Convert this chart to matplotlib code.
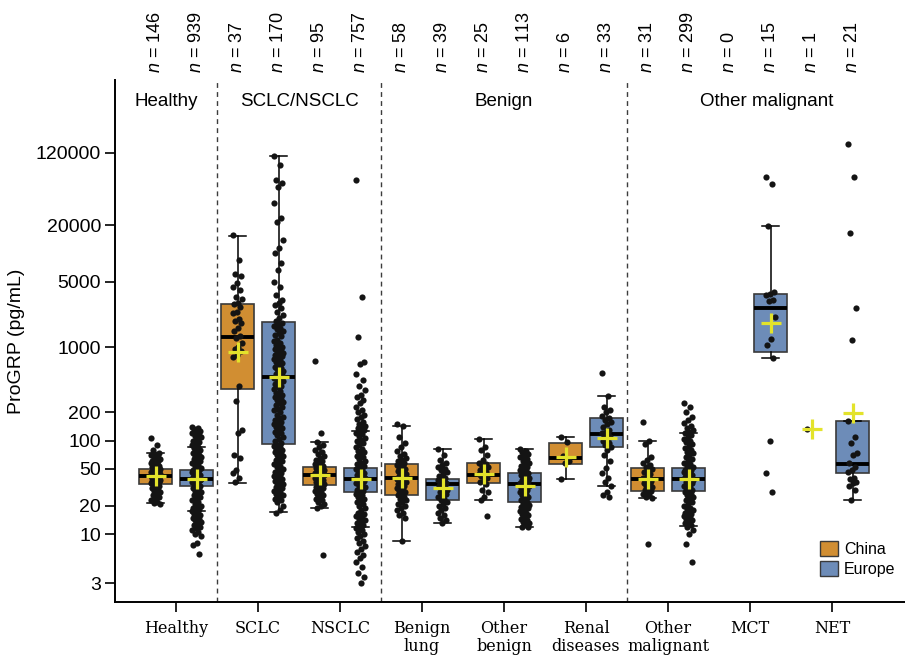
import matplotlib
matplotlib.use("Agg")
import matplotlib.pyplot as plt
from matplotlib.patches import Patch
import numpy as np

plt.rcParams['font.family'] = ['Liberation Sans', 'DejaVu Sans']
plt.rcParams['mathtext.fontset'] = 'custom'
plt.rcParams['mathtext.it'] = 'Liberation Sans:italic'
plt.rcParams['mathtext.rm'] = 'Liberation Sans'

# categories and sample sizes
categories = ["Healthy", "SCLC", "NSCLC", "Benign\nlung", "Other\nbenign",
              "Renal\ndiseases", "Other\nmalignant", "MCT", "NET"]
n_china = [146, 37, 95, 58, 25, 6, 31, 0, 1]
n_europe = [939, 170, 757, 39, 113, 33, 299, 15, 21]
groups = ["Healthy", "SCLC/NSCLC", "Benign", "Other malignant"]

# box statistics (pg/mL)
cn_q1 = [34.4, 356, 33.5, 26.2, 35.2, 56, 28.9, None, None]
cn_med = [41.8, 1283, 43, 39.8, 43, 65, 38.5, None, None]
cn_q3 = [49.7, 2891, 52.2, 56, 57.5, 94, 51, None, None]
cn_lo = [21.5, 35.2, 19, 8.4, 23, 38.5, 24.4, None, None]
cn_hi = [73.8, 15420, 96.6, 143, 104, 110, 98, None, None]
cn_mean = [42, 887, 43, 40, 44, 66, 38.5, None, 133]

eu_q1 = [32.8, 92, 28.2, 23.2, 22, 85.5, 29, 887, 45]
eu_med = [38.5, 479, 38.5, 34, 34.6, 118, 38.5, 2620, 56]
eu_q3 = [48.7, 1854, 51, 38.5, 45, 175, 51, 3700, 162]
eu_lo = [17.6, 17.2, 11.9, 13.1, 11.9, 32.6, 12.2, 765, 23]
eu_hi = [85, 110600, 127, 81, 81, 300, 120, 19700, 162]
eu_mean = [38.5, 480, 38.5, 31, 32.5, 107, 38.5, 1812, 197]

# individual measurements (visible dots, estimated)
healthy_cn = [107, 90, 80, 74, 72, 70, 67, 65, 64, 62, 61, 60, 58, 57, 56, 55, 54, 53,
              52, 51, 50, 49.5, 49, 48, 47.5, 47, 46, 45.5, 45, 44, 44, 43.5, 43, 42, 42,
              41.5, 41, 40, 40, 39.5, 39, 38, 37.5, 37, 37, 36, 35.5, 35, 34, 33.5, 33,
              32, 31, 30, 29, 28, 27, 26, 25, 24, 23, 22, 21.5, 21]
healthy_eu = [140, 136, 132, 128, 124, 120, 116, 112, 108, 104, 100, 96, 92, 89, 86, 83,
              80, 77, 74, 71, 69, 67, 65, 63, 61, 59, 57, 55, 53, 51, 50, 49, 48, 47, 46,
              45, 44, 43, 42, 41, 40, 39.5, 39, 38.5, 38, 37.5, 37, 36, 35, 34, 33, 32,
              31, 30, 29, 28, 27, 26, 25, 24, 23, 22, 21, 20, 19.5, 19, 18.5, 18, 17.5,
              17, 16.5, 16, 15.5, 15, 14.5, 14, 13.5, 13, 12.5, 12, 11.5, 11, 10.5, 10,
              9.5, 8, 7.6, 6.1]
sclc_cn = [16000, 8500, 6000, 5700, 4800, 4400, 4100, 3400, 3300, 3000, 2900, 2700, 2400,
           2300, 2000, 1900, 1800, 1600, 1500, 1300, 1250, 1100, 1000, 950, 900, 830, 780,
           380, 265, 130, 120, 70, 65, 49, 45, 40, 36]
sclc_eu = [110700, 88700, 61300, 56900, 51500, 34800, 24000, 21800, 14000, 11500, 10100,
           7940, 6680, 4970, 4400, 3610, 3200, 3000, 2800, 2600, 2400, 2200, 2050, 1900,
           1800, 1750, 1700, 1600, 1550, 1500, 1400, 1350, 1300, 1200, 1150, 1100, 1050,
           1000, 980, 950, 920, 900, 870, 850, 820, 800, 770, 750, 720, 700, 680, 650,
           620, 600, 580, 560, 540, 520, 500, 490, 470, 460, 440, 430, 410, 400, 385,
           370, 355, 340, 325, 310, 300, 290, 280, 270, 260, 250, 240, 230, 220, 210,
           200, 190, 180, 175, 165, 160, 155, 150, 145, 140, 135, 130, 125, 120, 115,
           110, 105, 100, 95, 90, 88, 85, 82, 80, 78, 75, 72, 70, 68, 65, 62, 60, 58, 56,
           54, 52, 50, 48, 46, 45, 44, 42, 41, 40, 39, 38, 37, 36, 35, 34, 33, 32, 31,
           30, 29, 28, 27, 26, 25, 24, 23, 22, 20, 18, 17]
nsclc_cn = [710, 120, 97, 90, 85, 80, 76, 72, 68, 65, 62, 60, 58, 56, 55, 54, 53, 52, 51,
            50, 49, 48, 47.5, 47, 46, 45.5, 45, 44, 43.5, 43, 43, 42, 41.5, 41, 40, 39.5,
            39, 38, 37, 36, 35.5, 35, 34, 33, 32, 31, 30, 29, 28, 27, 26, 25, 24, 23, 22,
            21, 20, 19, 6]
nsclc_eu = [61000, 3400, 1270, 700, 660, 520, 450, 380, 350, 310, 290, 270, 250, 230, 215,
            200, 190, 180, 170, 160, 150, 145, 140, 135, 130, 127, 122, 117, 112, 107,
            102, 98, 94, 90, 86, 82, 78, 75, 72, 69, 66, 63, 60, 58, 56, 54, 52, 50, 48.5,
            47, 45.5, 44, 43, 42, 41, 40, 39, 38, 37, 36, 35, 34, 33, 32, 31, 30, 29, 28,
            27, 26, 25, 24, 23, 22, 21, 20, 19, 18, 17, 16.5, 16, 15.5, 15, 14.5, 14, 13.5,
            13, 12.5, 12, 11.5, 11, 10.5, 10, 9.5, 9, 8.5, 8, 7.5, 7, 6.5, 6, 5.5, 5, 4.5,
            3.8, 3.5, 3.0]
blung_cn = [150, 143, 110, 95, 85, 78, 72, 68, 65, 62, 60, 58, 56, 55, 53, 51, 50, 48, 47,
            46, 45, 44, 43, 42, 41, 40, 39, 38, 37, 36, 35, 34, 33, 32, 31, 30, 29, 28, 27,
            26, 25, 24, 23, 22, 21, 20, 19, 18, 17, 16, 15, 8.4]
blung_eu = [81, 70, 62, 58, 55, 52, 50, 48, 46, 44, 42, 40, 39, 38, 37, 36, 35, 34, 33, 32,
            31, 30, 29, 28, 27, 26, 25, 24, 23, 22, 21, 20, 19, 18, 17, 16, 15, 14, 13]
obenign_cn = [104, 85, 80, 70, 62, 58, 56, 54, 52, 50, 48, 46, 45, 44, 43, 42, 40, 38, 36,
              34, 30, 28, 25, 23, 15.6]
obenign_eu = [81, 78, 75, 72, 69, 66, 63, 60, 58, 56, 54, 52, 50, 48, 47, 46, 45, 44, 43,
              42, 41, 40, 39, 38, 37, 36, 35, 34.5, 34, 33, 32, 31, 30, 29, 28, 27, 26, 25,
              24, 23, 22, 21, 20.5, 20, 19.5, 19, 18, 17.5, 17, 16.5, 16, 15, 14.5, 14,
              13.5, 13, 12.5, 12, 11.9]
renal_cn = [110, 97, 68, 60, 57, 38.5]
renal_eu = [528, 300, 230, 210, 200, 185, 175, 168, 160, 150, 140, 130, 125, 120, 118, 115,
            110, 105, 100, 95, 90, 85, 79, 70, 60, 51, 45, 40, 36, 32.6, 28, 26, 25]
omalig_cn = [158, 100, 92, 66, 62, 58, 55, 52, 50, 48, 46, 44, 42, 40, 39, 38, 37, 36, 35,
             34, 33, 32, 31, 30, 29, 28, 27, 26, 25, 24.4, 7.8]
omalig_eu = [250, 230, 200, 180, 165, 155, 145, 138, 130, 125, 120, 115, 110, 105, 100, 96,
             92, 88, 84, 80, 76, 73, 70, 67, 64, 61, 58, 56, 54, 52, 50, 49, 48, 47, 46,
             45, 44, 43, 42, 41, 40, 39, 38, 37, 36, 35, 34, 33, 32, 31, 30, 29, 28, 27,
             26, 25, 24, 23, 22, 21, 20, 19, 18.5, 18, 17.5, 17, 16.5, 16, 15.5, 15, 14.5,
             14, 13.5, 13, 12.5, 12, 11, 10, 7.8, 5.0]
mct_cn = []
mct_eu = [66000, 56000, 19700, 3850, 3700, 3600, 3200, 3100, 2090, 1230, 1050, 765, 98,
          45, 28.3]
net_cn = [133]
net_eu = [148600, 66000, 16600, 2640, 1190, 162, 110, 94, 74, 70, 58, 52, 49, 46, 40, 38.7,
          36, 35, 33, 30, 23]

china_points = [healthy_cn, sclc_cn, nsclc_cn, blung_cn, obenign_cn, renal_cn, omalig_cn,
                mct_cn, net_cn]
europe_points = [healthy_eu, sclc_eu, nsclc_eu, blung_eu, obenign_eu, renal_eu, omalig_eu,
                 mct_eu, net_eu]

china_color = '#D18E32'
europe_color = '#6D8CB8'
mean_color = '#E3E32B'

fig = plt.figure(figsize=(9.05, 6.55), dpi=100)
ax = fig.add_axes([115 / 905, 53 / 655, 790 / 905, 522 / 655])
ax.set_yscale('log')

x = np.arange(1, len(categories) + 1)
offset = 0.25


def draw_boxes(q1, med, q3, lo, hi, xpos, color):
    stats, pos = [], []
    for i in range(len(q1)):
        if q1[i] is None:
            continue
        stats.append(dict(q1=q1[i], med=med[i], q3=q3[i], whislo=lo[i], whishi=hi[i],
                          fliers=[]))
        pos.append(xpos[i])
    res = ax.bxp(stats, positions=pos, widths=0.4, capwidths=0.2, patch_artist=True,
                 showfliers=False,
                 boxprops=dict(edgecolor='#3a3a3a', linewidth=1.2),
                 medianprops=dict(color='black', linewidth=2.8),
                 whiskerprops=dict(color='black', linewidth=1.1),
                 capprops=dict(color='black', linewidth=1.1))
    for b in res['boxes']:
        b.set_facecolor(color)
        b.set_zorder(2)


draw_boxes(cn_q1, cn_med, cn_q3, cn_lo, cn_hi, x - offset, china_color)
draw_boxes(eu_q1, eu_med, eu_q3, eu_lo, eu_hi, x + offset, europe_color)

# jittered dots (deterministic spread)
for pts_list, sign in [(china_points, -1), (europe_points, 1)]:
    for i, vals in enumerate(pts_list):
        if len(vals) == 0:
            continue
        k = np.arange(len(vals))
        jit = ((k * 0.618034) % 1 - 0.5) * 0.12
        ax.scatter(x[i] + sign * offset + jit, vals, s=20, color='#141414',
                   linewidths=0, zorder=3)

# mean crosses
for means, sign in [(cn_mean, -1), (eu_mean, 1)]:
    for i, m in enumerate(means):
        if m is None:
            continue
        ax.plot(x[i] + sign * offset, m, marker='+', ms=15, mew=2.3, color=mean_color,
                ls='none', zorder=5)

# section separators
for xs in [1.5, 3.5, 6.5]:
    ax.axvline(xs, color='#3c3c3c', lw=1, ls=(0, (3.5, 3)), zorder=1)

ax.set_xlim(0.256, 9.89)
ax.set_ylim(1.88, 719000)

yticks = [3, 10, 20, 50, 100, 200, 1000, 5000, 20000, 120000]
ax.set_yticks(yticks)
ax.set_yticklabels([str(t) for t in yticks], fontsize=14)
ax.yaxis.set_minor_locator(matplotlib.ticker.NullLocator())
ax.set_ylabel("ProGRP (pg/mL)", fontsize=14, labelpad=8)

ax.set_xticks(x)
ax.set_xticklabels(categories, fontsize=11.5, family='DejaVu Serif', linespacing=1.05)
ax.tick_params(axis='both', direction='out', length=7, width=1.2, colors='black')
ax.tick_params(axis='y', pad=3)
ax.tick_params(axis='x', pad=6)

for s in ['top', 'right']:
    ax.spines[s].set_visible(False)
for s in ['left', 'bottom']:
    ax.spines[s].set_linewidth(1.4)

# section titles
trans = matplotlib.transforms.blended_transform_factory(ax.transData, ax.transAxes)
for label, xc in zip(groups, [0.878, 2.5, 5.0, 8.2]):
    ax.text(xc, 0.958, label, transform=trans, ha='center', va='center', fontsize=13.5)

# sample sizes
for i in range(len(categories)):
    for nval, sign in [(n_china[i], -1), (n_europe[i], 1)]:
        ax.text(x[i] + sign * offset, 1.013, r'$n$ = %d' % nval, transform=trans,
                rotation=90, ha='center', va='bottom', fontsize=13, clip_on=False)

handles = [Patch(facecolor=china_color, edgecolor='#3a3a3a', label='China'),
           Patch(facecolor=europe_color, edgecolor='#3a3a3a', label='Europe')]
ax.legend(handles=handles, loc='lower right', bbox_to_anchor=(1.0, 0.03), frameon=False,
          fontsize=11.5, handlelength=1.1, handleheight=1.1, handletextpad=0.4,
          labelspacing=0.25, borderaxespad=0.2)

fig.savefig('out.png', dpi=100)
